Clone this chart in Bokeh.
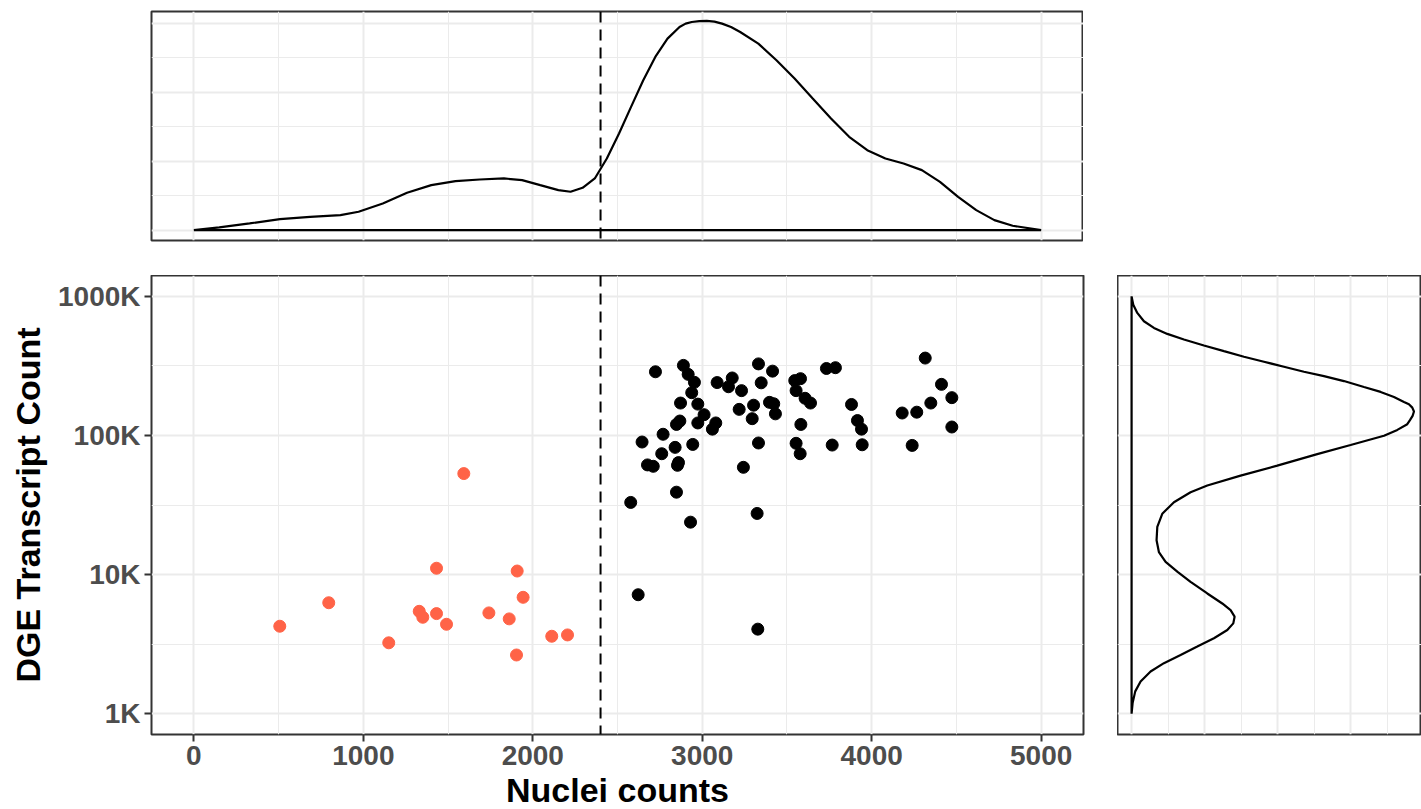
from bokeh.plotting import figure
from bokeh.layouts import column, row
from bokeh.models import Span, FixedTicker
from bokeh.embed import file_html
from bokeh.resources import INLINE

# ---------------- data ----------------
threshold = 2400

low_x = [1593, 1432, 1908, 1943, 796, 1330, 1351, 1432, 1491, 1741, 1861, 507, 2112, 2205, 1150, 1904]
low_y = [53200, 11100, 10600, 6860, 6270, 5440, 4930, 5240, 4390, 5300, 4800, 4250, 3600, 3680, 3230, 2640]

high_x = [2724, 2889, 2917, 2954, 2938, 2872, 2974, 3011, 2974, 2868, 2848, 3080, 3060, 2769,
          2645, 2840, 2944, 2761, 2677, 2711, 2860, 2854, 2848, 2578, 2931, 3088, 3177, 3155,
          3232, 3332, 3415, 3348, 3303, 3218, 3295, 3397, 3422, 3432, 3546, 3580, 3554, 3607,
          3639, 3582, 3733, 3786, 3881, 3332, 3554, 3578, 3767, 3243, 3324, 2622, 3328,
          4316, 4412, 4473, 4349, 4266, 4180, 4473, 4239, 3916, 3940, 3944]
high_y = [287000, 319000, 275000, 241000, 203000, 171000, 168000, 141000, 123000, 127000, 120000,
          123000, 111000, 102000, 89700, 82100, 86200, 73900, 61400, 60000, 63800, 61000, 39100,
          33000, 23800, 240000, 259000, 224000, 210000, 327000, 290000, 239000, 165000, 154000,
          132000, 173000, 169000, 143000, 248000, 256000, 210000, 185000, 171000, 120000, 303000,
          307000, 167000, 88300, 87800, 73900, 85300, 59000, 27500, 7160, 4050,
          360000, 233000, 187000, 171000, 147000, 145000, 115000, 84800, 128000, 111000, 85700]

# density of nuclei counts (top panel)
dens_x = [0, 150, 329, 508, 686, 865, 972, 1115, 1258, 1401, 1544, 1687, 1830, 1937, 2044, 2151,
          2223, 2294, 2366, 2437, 2509, 2580, 2652, 2723, 2795, 2866, 2902, 2938, 2983, 3027,
          3072, 3117, 3170, 3224, 3331, 3438, 3545, 3652, 3760, 3867, 3974, 4081, 4188, 4296,
          4403, 4510, 4617, 4724, 4832, 5000]
dens_x_val = [0.0, 0.039, 0.097, 0.159, 0.193, 0.217, 0.266, 0.386, 0.541, 0.652, 0.710, 0.734,
              0.749, 0.725, 0.652, 0.580, 0.556, 0.614, 0.749, 1.039, 1.401, 1.787, 2.174, 2.512,
              2.778, 2.947, 2.995, 3.019, 3.032, 3.034, 3.025, 2.995, 2.945, 2.874, 2.705, 2.464,
              2.198, 1.908, 1.618, 1.353, 1.159, 1.039, 0.966, 0.870, 0.700, 0.483, 0.290, 0.145,
              0.063, 0.0]

# density of log10 transcript counts (right panel)
dens_logy = [6.0, 5.940, 5.881, 5.821, 5.773, 5.730, 5.690, 5.647, 5.606, 5.566, 5.530, 5.494,
             5.458, 5.427, 5.391, 5.348, 5.313, 5.277, 5.241, 5.224, 5.200, 5.172, 5.141, 5.110,
             5.081, 5.040, 4.998, 4.931, 4.866, 4.783, 4.711, 4.640, 4.592, 4.520, 4.437, 4.342,
             4.246, 4.162, 4.091, 4.019, 3.947, 3.864, 3.792, 3.744, 3.697, 3.649, 3.601, 3.542,
             3.482, 3.422, 3.363, 3.303, 3.231, 3.160, 3.076, 3.0]
dens_y_val = [0.0, 0.023, 0.078, 0.169, 0.306, 0.489, 0.717, 0.991, 1.265, 1.539, 1.813, 2.087,
              2.361, 2.635, 2.909, 3.183, 3.411, 3.594, 3.731, 3.799, 3.845, 3.868, 3.849, 3.813,
              3.776, 3.640, 3.457, 3.000, 2.543, 1.995, 1.493, 1.037, 0.808, 0.580, 0.420, 0.352,
              0.342, 0.374, 0.466, 0.630, 0.808, 1.037, 1.242, 1.356, 1.411, 1.393, 1.311, 1.128,
              0.900, 0.671, 0.443, 0.260, 0.123, 0.050, 0.014, 0.0]

x_major = [0, 1000, 2000, 3000, 4000, 5000]
x_minor = [500, 1500, 2500, 3500, 4500]
y_major = [1e3, 1e4, 1e5, 1e6]
y_minor = [10 ** 3.5, 10 ** 4.5, 10 ** 5.5]
y_labels = ["1K", "10K", "100K", "1000K"]
d_major = [0, 1, 2, 3]
d_minor = [0.5, 1.5, 2.5, 3.5]

# ---------------- style ----------------
FONT = "Liberation Sans"
GRID = "#EBEBEB"
BORDER = "#333333"
RED = "#FF6347"
X_RANGE = (-250, 5250)
Y_RANGE = (10 ** 2.85, 10 ** 6.15)


def style(p):
    p.outline_line_color = BORDER
    p.outline_line_width = 2
    p.background_fill_color = "white"
    p.border_fill_color = "white"
    for g in p.xgrid + p.ygrid:
        g.grid_line_color = GRID
        g.grid_line_width = 2
        g.minor_grid_line_color = GRID
        g.minor_grid_line_width = 1


def style_axis(ax, label_standoff):
    ax.axis_line_color = None
    ax.major_tick_line_color = BORDER
    ax.major_tick_line_width = 2
    ax.major_tick_out = 7
    ax.major_tick_in = 0
    ax.minor_tick_line_color = None
    ax.major_label_text_font = FONT
    ax.major_label_text_font_style = "bold"
    ax.major_label_text_font_size = "28px"
    ax.major_label_text_color = "#4D4D4D"
    ax.major_label_standoff = 4
    ax.axis_label_text_font = FONT
    ax.axis_label_text_font_style = "bold"
    ax.axis_label_text_font_size = "34px"
    ax.axis_label_text_color = "black"
    ax.axis_label_standoff = label_standoff


# ---------------- top density ----------------
pt = figure(frame_width=932, frame_height=229, x_range=X_RANGE, y_range=(-0.151, 3.171),
            output_backend="svg", toolbar_location=None,
            min_border_left=151, min_border_right=0, min_border_top=11, min_border_bottom=35)
pt.xaxis.ticker = FixedTicker(ticks=x_major, minor_ticks=x_minor)
pt.yaxis.ticker = FixedTicker(ticks=d_major, minor_ticks=d_minor)
pt.xaxis.visible = False
pt.yaxis.visible = False
style(pt)
pt.patch(dens_x, dens_x_val, fill_color=None, line_color="black", line_width=2.2)
pt.add_layout(Span(location=threshold, dimension="height", line_color="black",
                   line_dash="11 7", line_width=2))

# ---------------- main scatter ----------------
p = figure(frame_width=932, frame_height=459, x_range=X_RANGE, y_range=Y_RANGE,
           y_axis_type="log", output_backend="svg", toolbar_location=None,
           min_border_left=151, min_border_right=34, min_border_top=0, min_border_bottom=75,
           x_axis_label="Nuclei counts", y_axis_label="DGE Transcript Count")
p.xaxis.ticker = FixedTicker(ticks=x_major, minor_ticks=x_minor)
p.yaxis.ticker = FixedTicker(ticks=y_major, minor_ticks=y_minor)
p.yaxis.major_label_overrides = {float(v): lab for v, lab in zip(y_major, y_labels)}
style(p)
style_axis(p.xaxis[0], 3)
style_axis(p.yaxis[0], 8)
p.add_layout(Span(location=threshold, dimension="height", line_color="black",
                  line_dash="11 7", line_width=2))
p.scatter(low_x, low_y, size=12, fill_color=RED, line_color=RED)
p.scatter(high_x, high_y, size=12, fill_color="black", line_color="black")

# ---------------- right density ----------------
pr = figure(frame_width=304, frame_height=459, x_range=(-0.193, 3.971), y_range=Y_RANGE,
            y_axis_type="log", output_backend="svg", toolbar_location=None,
            min_border_left=0, min_border_right=0, min_border_top=0, min_border_bottom=75)
pr.xaxis.ticker = FixedTicker(ticks=d_major, minor_ticks=d_minor)
pr.yaxis.ticker = FixedTicker(ticks=y_major, minor_ticks=y_minor)
pr.xaxis.visible = False
pr.yaxis.visible = False
style(pr)
pr.patch(dens_y_val, [10 ** v for v in dens_logy], fill_color=None, line_color="black",
         line_width=2.2)

layout = column(pt, row(p, pr))
open("out.html", "w").write(file_html(layout, INLINE))
